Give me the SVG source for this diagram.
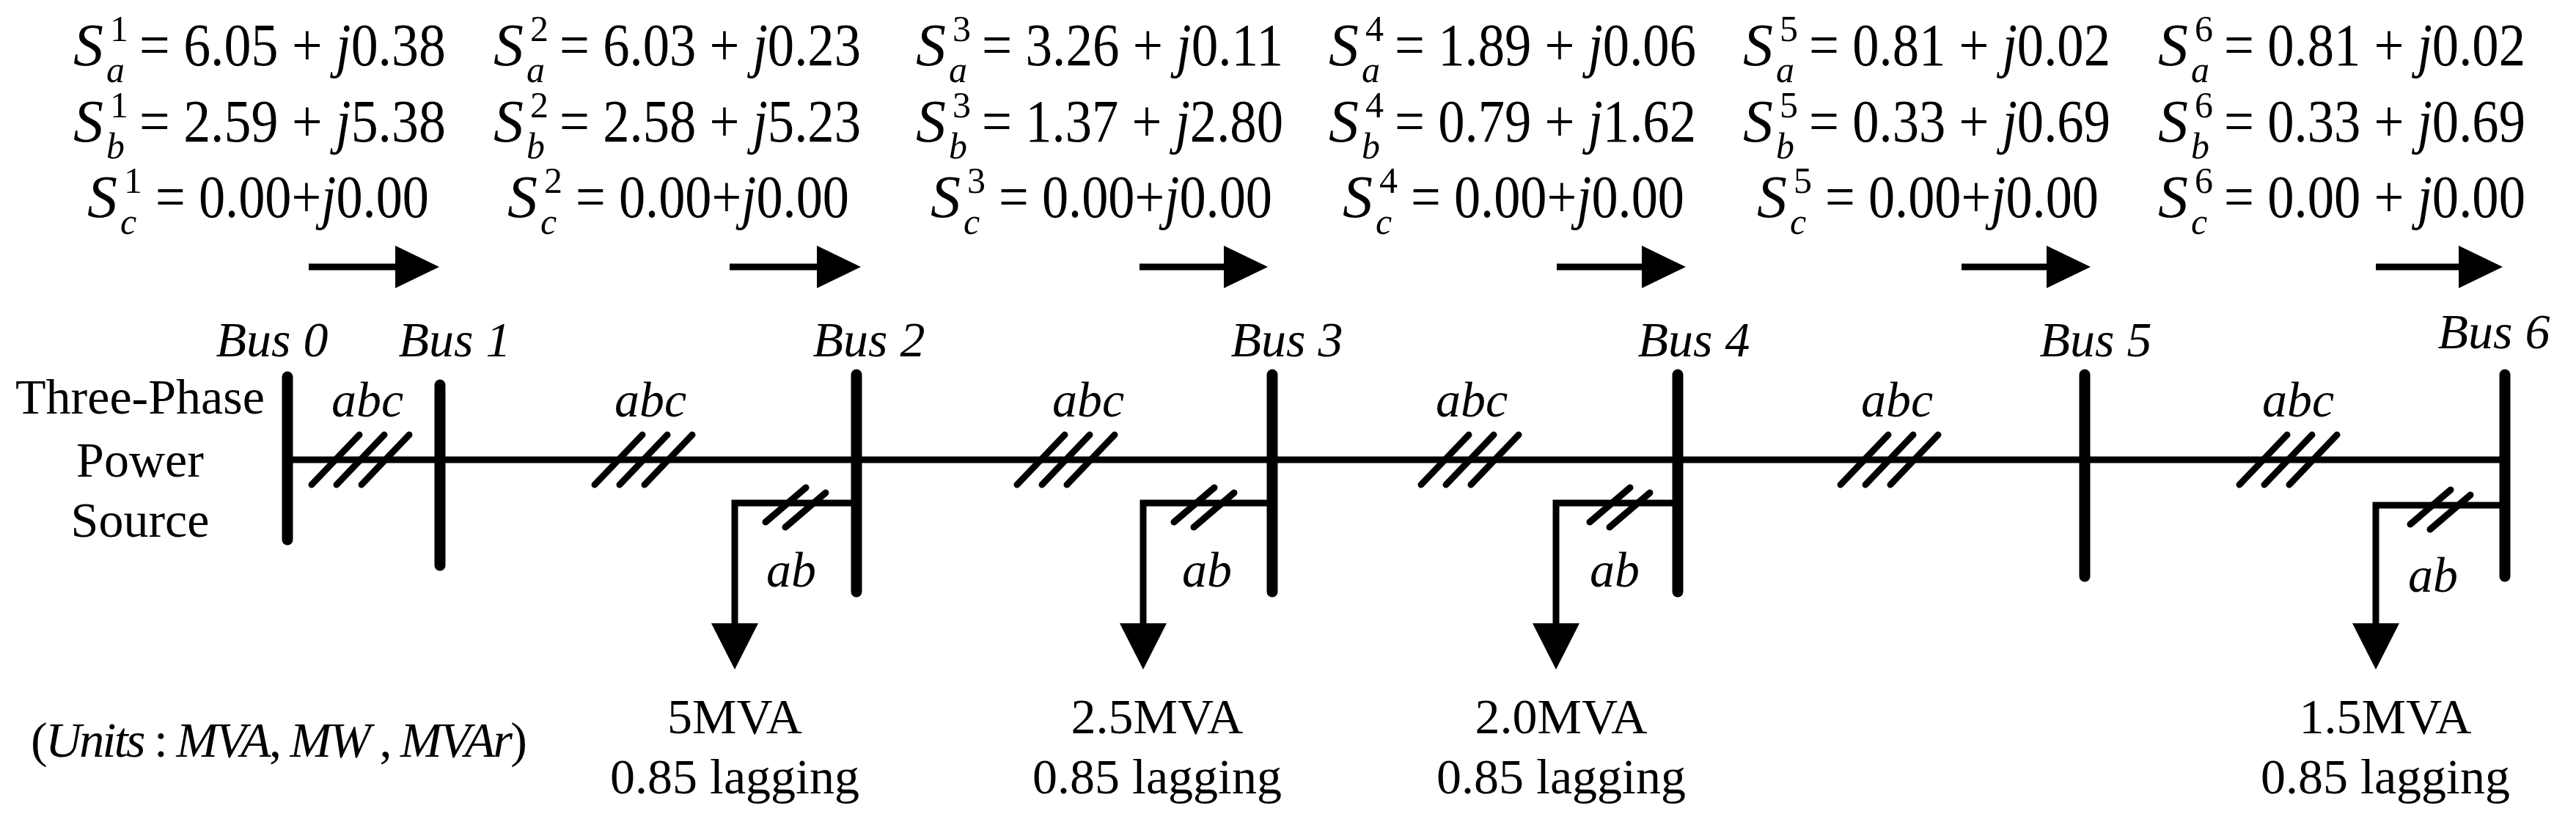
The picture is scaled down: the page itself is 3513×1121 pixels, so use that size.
<svg xmlns="http://www.w3.org/2000/svg" width="3513" height="1121" viewBox="0 0 3513 1121" font-family="'Liberation Serif', 'Times New Roman', 'DejaVu Serif', serif">
<style>
text{font-family:"Liberation Serif","Times New Roman","DejaVu Serif",serif;fill:#000}
.eq{font-size:82px}
.sup{font-size:50px}
.sub{font-size:50px;font-style:italic}
.it{font-style:italic}
.lbl{font-size:68px}
.bar{stroke:#000;stroke-width:15;stroke-linecap:round;fill:none}
.ln{stroke:#000;stroke-width:9;fill:none}
.sl{stroke:#000;stroke-width:9;stroke-linecap:round}
</style>
<rect width="3513" height="1121" fill="#fff"/>
<defs>
<polygon id="ah" points="0,0 -60,-29 -60,29" fill="#000"/>
<polygon id="dh" points="0,0 -32,-63 32,-63" fill="#000"/>
<g id="h3"><line class="sl" x1="0" y1="661" x2="65" y2="593"/><line class="sl" x1="34" y1="661" x2="99" y2="593"/><line class="sl" x1="68" y1="661" x2="133" y2="593"/></g>
<g id="h2"><line class="sl" x1="0" y1="712" x2="55" y2="665"/><line class="sl" x1="27" y1="719" x2="82" y2="672"/></g>
</defs>
<g id="flows">
<text class="eq" x="100" y="89"><tspan class="it">S</tspan></text><text class="sup" x="150" y="56">1</text><text class="sub" x="145" y="112">a</text><text class="eq" x="190" y="89" textLength="418" lengthAdjust="spacingAndGlyphs">= 6.05 + <tspan class="it">j</tspan>0.38</text>
<text class="eq" x="100" y="193"><tspan class="it">S</tspan></text><text class="sup" x="150" y="160">1</text><text class="sub" x="145" y="216">b</text><text class="eq" x="190" y="193" textLength="418" lengthAdjust="spacingAndGlyphs">= 2.59 + <tspan class="it">j</tspan>5.38</text>
<text class="eq" x="119" y="296"><tspan class="it">S</tspan></text><text class="sup" x="169" y="263">1</text><text class="sub" x="164" y="319">c</text><text class="eq" x="212" y="296" textLength="373" lengthAdjust="spacingAndGlyphs">= 0.00+<tspan class="it">j</tspan>0.00</text>

<text class="eq" x="673" y="89"><tspan class="it">S</tspan></text><text class="sup" x="723" y="56">2</text><text class="sub" x="718" y="112">a</text><text class="eq" x="763" y="89" textLength="411" lengthAdjust="spacingAndGlyphs">= 6.03 + <tspan class="it">j</tspan>0.23</text>
<text class="eq" x="673" y="193"><tspan class="it">S</tspan></text><text class="sup" x="723" y="160">2</text><text class="sub" x="718" y="216">b</text><text class="eq" x="763" y="193" textLength="411" lengthAdjust="spacingAndGlyphs">= 2.58 + <tspan class="it">j</tspan>5.23</text>
<text class="eq" x="692" y="296"><tspan class="it">S</tspan></text><text class="sup" x="742" y="263">2</text><text class="sub" x="737" y="319">c</text><text class="eq" x="785" y="296" textLength="373" lengthAdjust="spacingAndGlyphs">= 0.00+<tspan class="it">j</tspan>0.00</text>

<text class="eq" x="1249" y="89"><tspan class="it">S</tspan></text><text class="sup" x="1299" y="56">3</text><text class="sub" x="1294" y="112">a</text><text class="eq" x="1339" y="89" textLength="411" lengthAdjust="spacingAndGlyphs">= 3.26 + <tspan class="it">j</tspan>0.11</text>
<text class="eq" x="1249" y="193"><tspan class="it">S</tspan></text><text class="sup" x="1299" y="160">3</text><text class="sub" x="1294" y="216">b</text><text class="eq" x="1339" y="193" textLength="411" lengthAdjust="spacingAndGlyphs">= 1.37 + <tspan class="it">j</tspan>2.80</text>
<text class="eq" x="1269" y="296"><tspan class="it">S</tspan></text><text class="sup" x="1319" y="263">3</text><text class="sub" x="1314" y="319">c</text><text class="eq" x="1362" y="296" textLength="373" lengthAdjust="spacingAndGlyphs">= 0.00+<tspan class="it">j</tspan>0.00</text>

<text class="eq" x="1812" y="89"><tspan class="it">S</tspan></text><text class="sup" x="1862" y="56">4</text><text class="sub" x="1857" y="112">a</text><text class="eq" x="1902" y="89" textLength="411" lengthAdjust="spacingAndGlyphs">= 1.89 + <tspan class="it">j</tspan>0.06</text>
<text class="eq" x="1812" y="193"><tspan class="it">S</tspan></text><text class="sup" x="1862" y="160">4</text><text class="sub" x="1857" y="216">b</text><text class="eq" x="1902" y="193" textLength="411" lengthAdjust="spacingAndGlyphs">= 0.79 + <tspan class="it">j</tspan>1.62</text>
<text class="eq" x="1831" y="296"><tspan class="it">S</tspan></text><text class="sup" x="1881" y="263">4</text><text class="sub" x="1876" y="319">c</text><text class="eq" x="1924" y="296" textLength="373" lengthAdjust="spacingAndGlyphs">= 0.00+<tspan class="it">j</tspan>0.00</text>

<text class="eq" x="2377" y="89"><tspan class="it">S</tspan></text><text class="sup" x="2427" y="56">5</text><text class="sub" x="2422" y="112">a</text><text class="eq" x="2467" y="89" textLength="411" lengthAdjust="spacingAndGlyphs">= 0.81 + <tspan class="it">j</tspan>0.02</text>
<text class="eq" x="2377" y="193"><tspan class="it">S</tspan></text><text class="sup" x="2427" y="160">5</text><text class="sub" x="2422" y="216">b</text><text class="eq" x="2467" y="193" textLength="411" lengthAdjust="spacingAndGlyphs">= 0.33 + <tspan class="it">j</tspan>0.69</text>
<text class="eq" x="2396" y="296"><tspan class="it">S</tspan></text><text class="sup" x="2446" y="263">5</text><text class="sub" x="2441" y="319">c</text><text class="eq" x="2489" y="296" textLength="373" lengthAdjust="spacingAndGlyphs">= 0.00+<tspan class="it">j</tspan>0.00</text>

<text class="eq" x="2943" y="89"><tspan class="it">S</tspan></text><text class="sup" x="2993" y="56">6</text><text class="sub" x="2988" y="112">a</text><text class="eq" x="3033" y="89" textLength="411" lengthAdjust="spacingAndGlyphs">= 0.81 + <tspan class="it">j</tspan>0.02</text>
<text class="eq" x="2943" y="193"><tspan class="it">S</tspan></text><text class="sup" x="2993" y="160">6</text><text class="sub" x="2988" y="216">b</text><text class="eq" x="3033" y="193" textLength="411" lengthAdjust="spacingAndGlyphs">= 0.33 + <tspan class="it">j</tspan>0.69</text>
<text class="eq" x="2943" y="296"><tspan class="it">S</tspan></text><text class="sup" x="2993" y="263">6</text><text class="sub" x="2988" y="319">c</text><text class="eq" x="3033" y="296" textLength="411" lengthAdjust="spacingAndGlyphs">= 0.00 + <tspan class="it">j</tspan>0.00</text>
</g>
<g id="connectors">
<line class="ln" x1="421" y1="364" x2="550" y2="364"/><use href="#ah" x="599" y="364"/>
<line class="ln" x1="995" y1="364" x2="1125" y2="364"/><use href="#ah" x="1174" y="364"/>
<line class="ln" x1="1554" y1="364" x2="1680" y2="364"/><use href="#ah" x="1729" y="364"/>
<line class="ln" x1="2123" y1="364" x2="2250" y2="364"/><use href="#ah" x="2299" y="364"/>
<line class="ln" x1="2675" y1="364" x2="2802" y2="364"/><use href="#ah" x="2851" y="364"/>
<line class="ln" x1="3240" y1="364" x2="3364" y2="364"/><use href="#ah" x="3413" y="364"/>
<line class="ln" x1="392" y1="627" x2="3416" y2="627"/>
<use href="#h3" x="425"/><use href="#h3" x="811"/><use href="#h3" x="1387"/><use href="#h3" x="1938"/><use href="#h3" x="2510"/><use href="#h3" x="3054"/>
<polyline class="ln" points="1168,686 1002,686 1002,852"/><use href="#dh" x="1002" y="913"/><use href="#h2" x="1044"/>
<polyline class="ln" points="1735,686 1559,686 1559,852"/><use href="#dh" x="1559" y="913"/><use href="#h2" x="1601"/>
<polyline class="ln" points="2288,686 2122,686 2122,852"/><use href="#dh" x="2122" y="913"/><use href="#h2" x="2168"/>
<polyline class="ln" points="3416,689 3240,689 3240,852"/><use href="#dh" x="3240" y="913"/><use href="#h2" x="3287" y="3"/>
</g>
<g id="bus0"><line class="bar" x1="392" y1="514" x2="392" y2="736"/><text class="lbl it" x="371" y="486" text-anchor="middle">Bus 0</text></g>
<g id="bus1"><line class="bar" x1="600" y1="525" x2="600" y2="771"/><text class="lbl it" x="620" y="486" text-anchor="middle">Bus 1</text></g>
<g id="bus2"><line class="bar" x1="1168" y1="511" x2="1168" y2="807"/><text class="lbl it" x="1185" y="486" text-anchor="middle">Bus 2</text></g>
<g id="bus3"><line class="bar" x1="1735" y1="511" x2="1735" y2="807"/><text class="lbl it" x="1755" y="486" text-anchor="middle">Bus 3</text></g>
<g id="bus4"><line class="bar" x1="2288" y1="511" x2="2288" y2="807"/><text class="lbl it" x="2310" y="486" text-anchor="middle">Bus 4</text></g>
<g id="bus5"><line class="bar" x1="2843" y1="511" x2="2843" y2="786"/><text class="lbl it" x="2858" y="486" text-anchor="middle">Bus 5</text></g>
<g id="bus6"><line class="bar" x1="3416" y1="511" x2="3416" y2="786"/><text class="lbl it" x="3401" y="475" text-anchor="middle">Bus 6</text></g>
<g id="source"><text class="lbl" x="191" y="564" text-anchor="middle">Three-Phase</text><text class="lbl" x="191" y="650" text-anchor="middle">Power</text><text class="lbl" x="191" y="732" text-anchor="middle">Source</text></g>
<g id="phase-labels">
<text class="lbl it" x="501" y="568" text-anchor="middle">abc</text><text class="lbl it" x="887" y="568" text-anchor="middle">abc</text><text class="lbl it" x="1484" y="568" text-anchor="middle">abc</text><text class="lbl it" x="2007" y="568" text-anchor="middle">abc</text><text class="lbl it" x="2587" y="568" text-anchor="middle">abc</text><text class="lbl it" x="3134" y="568" text-anchor="middle">abc</text>
<text class="lbl it" x="1079" y="800" text-anchor="middle">ab</text><text class="lbl it" x="1646" y="800" text-anchor="middle">ab</text><text class="lbl it" x="2202" y="800" text-anchor="middle">ab</text><text class="lbl it" x="3318" y="807" text-anchor="middle">ab</text>
</g>
<g id="load2"><text class="lbl" x="1002" y="1000" text-anchor="middle">5MVA</text><text class="lbl" x="1002" y="1082" text-anchor="middle">0.85 lagging</text></g>
<g id="load3"><text class="lbl" x="1578" y="1000" text-anchor="middle">2.5MVA</text><text class="lbl" x="1578" y="1082" text-anchor="middle">0.85 lagging</text></g>
<g id="load4"><text class="lbl" x="2129" y="1000" text-anchor="middle">2.0MVA</text><text class="lbl" x="2129" y="1082" text-anchor="middle">0.85 lagging</text></g>
<g id="load6"><text class="lbl" x="3253" y="1000" text-anchor="middle">1.5MVA</text><text class="lbl" x="3253" y="1082" text-anchor="middle">0.85 lagging</text></g>
<g id="units"><text class="lbl" x="42" y="1032" textLength="677">(<tspan class="it">Units</tspan> : <tspan class="it">MVA</tspan>, <tspan class="it">MW</tspan> , <tspan class="it">MVAr</tspan>)</text></g>
</svg>
